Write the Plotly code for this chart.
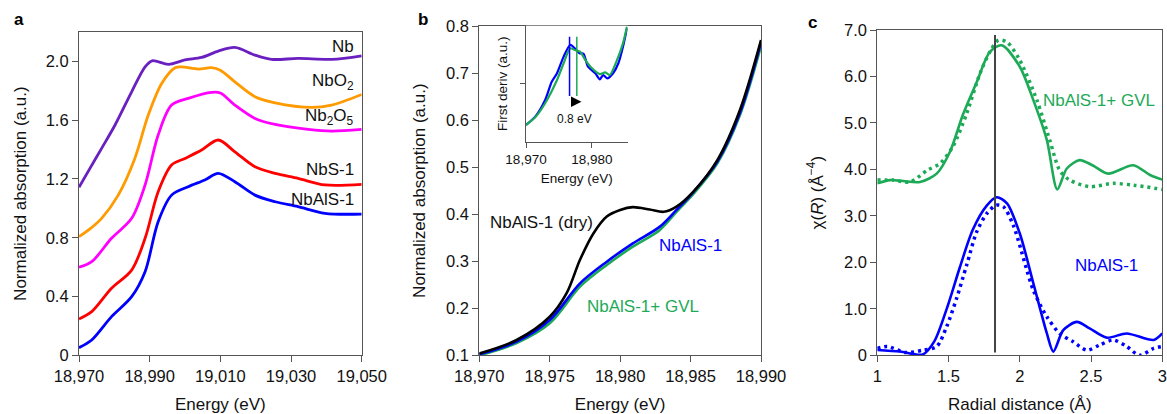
import plotly.graph_objects as go

W, H = 1167, 414
FONT = "Liberation Sans, Arial, Helvetica, sans-serif"
AX = "#555555"

# ---------------- Panel a data ----------------
nb_x = [18970, 18973.1, 18976.4, 18980.2, 18984.9, 18988.7, 18990.7, 18995.3, 19000, 19004.7, 19009.4, 19014.1, 19019.8, 19024.5, 19032, 19041.5, 19050]
nb_y = [1.143, 1.272, 1.408, 1.567, 1.793, 1.963, 2.004, 1.98, 2.01, 2.027, 2.07, 2.095, 2.043, 2.014, 2.02, 2.014, 2.038]
nbo2_x = [18970, 18973.1, 18976.4, 18981.1, 18985.8, 18989.6, 18993.4, 18997.2, 18999, 19003.8, 19007.5, 19010, 19014.1, 19019.8, 19025.5, 19035.8, 19041.5, 19050]
nbo2_y = [0.807, 0.86, 0.932, 1.09, 1.34, 1.635, 1.85, 1.957, 1.963, 1.948, 1.957, 1.94, 1.861, 1.76, 1.718, 1.687, 1.703, 1.775]
nb2o5_x = [18970, 18973.6, 18979.2, 18984.9, 18988.7, 18992.4, 18996.2, 19000.9, 19007.5, 19010, 19014.1, 19019.8, 19025.5, 19034.9, 19041.5, 19050]
nb2o5_y = [0.599, 0.637, 0.796, 0.932, 1.159, 1.499, 1.703, 1.748, 1.789, 1.785, 1.703, 1.612, 1.571, 1.537, 1.526, 1.537]
nbs_x = [18970, 18973.6, 18979.2, 18984.9, 18988.7, 18992.4, 18996.2, 19000, 19004.7, 19009.4, 19014.1, 19019.8, 19025.5, 19032, 19039.6, 19050]
nbs_y = [0.247, 0.297, 0.456, 0.58, 0.796, 1.113, 1.295, 1.34, 1.397, 1.465, 1.385, 1.283, 1.238, 1.204, 1.159, 1.163]
nbals_x = [18970, 18973.6, 18979.2, 18984.9, 18988.7, 18992.4, 18996.2, 19000.9, 19005.6, 19009.4, 19014.1, 19019.8, 19025.5, 19032, 19039.6, 19050]
nbals_y = [0.052, 0.104, 0.263, 0.399, 0.569, 0.909, 1.09, 1.147, 1.193, 1.238, 1.181, 1.09, 1.045, 1.011, 0.966, 0.961]
a_names = ["Nb", "NbO<sub>2</sub>", "Nb<sub>2</sub>O<sub>5</sub>", "NbS-1", "NbAlS-1"]
a_colors = ["#6a1fc0", "#ff9a00", "#ff00ff", "#ff0000", "#0000ff"]
a_label_y = [2.10, 1.86, 1.623, 1.265, 1.061]
a_ticks = [0, 0.4, 0.8, 1.2, 1.6, 2.0]
a_ticktext = ["0", "0.4", "0.8", "1.2", "1.6", "2.0"]
a_xticks = [18970, 18990, 19010, 19030, 19050]

# ---------------- Panel b data ----------------
dry_x = [18970, 18972.65, 18975.0, 18976.2, 18977.15, 18978.1, 18979.05, 18980.0, 18980.9, 18982.1, 18983.1, 18984.0, 18985.2, 18986.9, 18988.5, 18990]
dry_y = [0.104, 0.1325, 0.182, 0.232, 0.303, 0.359, 0.395, 0.409, 0.415, 0.410, 0.405, 0.416, 0.448, 0.515, 0.621, 0.770]
wet_x = [18970, 18972.65, 18975.0, 18977.15, 18979.05, 18980.9, 18982.8, 18984.0, 18985.2, 18986.9, 18988.5, 18990]
wet_y = [0.102, 0.129, 0.175, 0.253, 0.299, 0.338, 0.373, 0.409, 0.447, 0.512, 0.615, 0.765]
gvl_y = [0.100, 0.126, 0.168, 0.246, 0.292, 0.331, 0.366, 0.405, 0.443, 0.508, 0.610, 0.757]
b_xticks = [18970, 18975, 18980, 18985, 18990]
b_yticks = [0.1, 0.2, 0.3, 0.4, 0.5, 0.6, 0.7, 0.8]

# inset (first derivative)
ins_blue_x = [18970, 18971.4, 18972.9, 18973.9, 18974.7, 18975.7, 18976.7, 18977.4, 18978.1, 18978.7, 18979.4, 18980.5, 18981.2, 18981.7, 18982.3, 18983.2, 18984.0, 18984.7, 18985.3]
ins_blue_y = [0.144, 0.216, 0.36, 0.517, 0.59, 0.733, 0.834, 0.805, 0.762, 0.76, 0.647, 0.59, 0.538, 0.575, 0.546, 0.59, 0.676, 0.819, 0.977]
ins_green_x = [18970, 18971.4, 18972.9, 18974.7, 18975.7, 18976.7, 18977.4, 18978.2, 18979.0, 18980.0, 18981.2, 18982.0, 18982.7, 18983.7, 18984.7, 18985.3]
ins_green_y = [0.144, 0.21, 0.331, 0.532, 0.676, 0.805, 0.79, 0.776, 0.704, 0.633, 0.583, 0.598, 0.575, 0.69, 0.848, 0.99]
edge_blue = 18976.6
edge_green = 18977.7
edge_span = [0.394, 0.905]
shift_arrow = [18976.6, 18978.4]
shift_y = 0.345

# ---------------- Panel c data ----------------
gvl_solid_x = [1.0, 1.089, 1.18, 1.30, 1.417, 1.51, 1.60, 1.698, 1.79, 1.873, 2.0, 2.095, 2.19, 2.263, 2.33, 2.42, 2.51, 2.62, 2.796, 2.914, 3.0]
gvl_solid_y = [3.70, 3.77, 3.75, 3.73, 3.91, 4.38, 5.17, 5.88, 6.53, 6.67, 6.21, 5.49, 4.63, 3.57, 4.02, 4.20, 4.09, 3.91, 4.09, 3.88, 3.78]
gvl_dot_x = [1.0, 1.11, 1.23, 1.35, 1.44, 1.53, 1.627, 1.72, 1.79, 1.85, 1.91, 2.0, 2.12, 2.21, 2.28, 2.35, 2.49, 2.656, 2.80, 3.0]
gvl_dot_y = [3.77, 3.77, 3.73, 3.98, 4.13, 4.49, 5.20, 6.06, 6.53, 6.78, 6.74, 6.35, 5.49, 4.63, 3.98, 3.77, 3.63, 3.70, 3.66, 3.57]
als_solid_x = [1.0, 1.16, 1.32, 1.40, 1.487, 1.58, 1.67, 1.768, 1.838, 1.91, 2.0, 2.095, 2.19, 2.235, 2.305, 2.40, 2.49, 2.61, 2.75, 2.94, 3.0]
als_solid_y = [0.114, 0.08, 0.02, 0.30, 1.0, 1.9, 2.7, 3.22, 3.40, 3.27, 2.62, 1.55, 0.47, 0.08, 0.54, 0.72, 0.58, 0.38, 0.47, 0.33, 0.47]
als_dot_x = [1.0, 1.07, 1.2, 1.32, 1.417, 1.487, 1.557, 1.627, 1.698, 1.768, 1.833, 1.884, 1.954, 2.095, 2.19, 2.28, 2.375, 2.47, 2.56, 2.656, 2.75, 2.84, 2.94, 3.0]
als_dot_y = [0.15, 0.19, 0.06, 0.11, 0.19, 0.62, 1.23, 1.94, 2.66, 3.05, 3.23, 3.20, 2.80, 1.40, 0.83, 0.47, 0.29, 0.11, 0.22, 0.33, 0.19, 0.0, 0.15, 0.19]
r_marker = 1.826
r_marker_span = [0.06, 6.89]
c_yticks = [0, 1, 2, 3, 4, 5, 6, 7]
c_ticktext = ["0", "1.0", "2.0", "3.0", "4.0", "5.0", "6.0", "7.0"]
c_xticks = [1, 1.5, 2, 2.5, 3]

GREEN = "#1daa57"
BLUE = "#0000ff"

fig = go.Figure()

def line(x, y, color, xa, ya, width=2.8, dash="solid", smooth=0.9):
    fig.add_trace(go.Scatter(x=x, y=y, mode="lines", xaxis=xa, yaxis=ya,
                             line=dict(color=color, width=width, shape="spline", smoothing=smooth, dash=dash),
                             showlegend=False, hoverinfo="skip"))

# panel a
for xs, ys, c in zip([nb_x, nbo2_x, nb2o5_x, nbs_x, nbals_x], [nb_y, nbo2_y, nb2o5_y, nbs_y, nbals_y], a_colors):
    line(xs, ys, c, "x", "y")

# panel b
line(wet_x, gvl_y, GREEN, "x2", "y2", width=2.6)
line(wet_x, wet_y, BLUE, "x2", "y2", width=2.6)
line(dry_x, dry_y, "#000000", "x2", "y2", width=2.6)

# inset
line(ins_blue_x, ins_blue_y, BLUE, "x4", "y4", width=2.2, smooth=0.7)
line(ins_green_x, ins_green_y, GREEN, "x4", "y4", width=2.2, smooth=0.7)
fig.add_trace(go.Scatter(x=[edge_blue, edge_blue], y=edge_span, mode="lines", xaxis="x4", yaxis="y4",
                         line=dict(color=BLUE, width=1.5), showlegend=False, hoverinfo="skip"))
fig.add_trace(go.Scatter(x=[edge_green, edge_green], y=edge_span, mode="lines", xaxis="x4", yaxis="y4",
                         line=dict(color=GREEN, width=1.5), showlegend=False, hoverinfo="skip"))

# panel c
line(gvl_dot_x, gvl_dot_y, GREEN, "x3", "y3", width=3.5, dash="3px,4px", smooth=0.8)
line(gvl_solid_x, gvl_solid_y, GREEN, "x3", "y3", width=2.6, smooth=0.8)
line(als_dot_x, als_dot_y, BLUE, "x3", "y3", width=3.5, dash="3px,4px", smooth=0.8)
line(als_solid_x, als_solid_y, BLUE, "x3", "y3", width=2.6, smooth=0.8)
fig.add_trace(go.Scatter(x=[r_marker, r_marker], y=r_marker_span, mode="lines", xaxis="x3", yaxis="y3",
                         line=dict(color="#444444", width=2), showlegend=False, hoverinfo="skip"))

def xd(p0, p1):
    return [p0 / W, p1 / W]

def yd(top, bottom):
    return [1 - bottom / H, 1 - top / H]

axis_common = dict(showline=True, linecolor=AX, linewidth=1.2, ticks="outside", ticklen=6, tickwidth=1.2,
                   tickcolor=AX, showgrid=False, zeroline=False, mirror=True, automargin=False,
                   tickfont=dict(size=16.5, color="#111"), fixedrange=True)
title_font = dict(size=17, color="#111")

fig.update_layout(
    width=W, height=H, margin=dict(l=0, r=0, t=0, b=0, autoexpand=False),
    paper_bgcolor="white", plot_bgcolor="white",
    font=dict(family=FONT, color="#111"),
    xaxis=dict(domain=xd(79, 361.7), anchor="y", range=[18970, 19050], tickvals=a_xticks, tickformat=",",
               title=dict(text="Energy (eV)", font=title_font, standoff=13), **axis_common),
    yaxis=dict(domain=yd(32, 355.3), anchor="x", range=[0, 2.2], tickvals=a_ticks, ticktext=a_ticktext,
               title=dict(text="Normalized absorption (a.u.)", font=title_font, standoff=14), **axis_common),
    xaxis2=dict(domain=xd(479.3, 761), anchor="y2", range=[18970, 18990], tickvals=b_xticks, tickformat=",",
                title=dict(text="Energy (eV)", font=title_font, standoff=13), **axis_common),
    yaxis2=dict(domain=yd(26, 355.3), anchor="x2", range=[0.1, 0.8], tickvals=b_yticks, tickformat=".1f",
                title=dict(text="Normalized absorption (a.u.)", font=title_font, standoff=16), **axis_common),
    xaxis3=dict(domain=xd(877.3, 1162.3), anchor="y3", range=[1, 3], tickvals=c_xticks,
                title=dict(text="Radial distance (Å)", font=title_font, standoff=13), **axis_common),
    yaxis3=dict(domain=yd(30, 355.3), anchor="x3", range=[0, 7], tickvals=c_yticks, ticktext=c_ticktext,
                title=dict(text="χ(<i>R</i>) (Å<sup>−4</sup>)", font=title_font, standoff=16), **axis_common),
    xaxis4=dict(domain=xd(526, 627.6), anchor="y4", range=[18970, 18985.4], tickvals=[18970, 18980], tickformat=",",
                showline=True, linecolor=AX, linewidth=1.2, ticks="outside", ticklen=5, tickcolor=AX, automargin=False,
                showgrid=False, zeroline=False, fixedrange=True, tickfont=dict(size=13.5, color="#111"),
                title=dict(text="Energy (eV)", font=dict(size=13.5, color="#111"), standoff=7)),
    yaxis4=dict(domain=yd(25.7, 141.7), anchor="x4", range=[0, 1], tickvals=[0.5], showticklabels=False,
                showline=True, linecolor=AX, linewidth=1.2, ticks="outside", ticklen=5, tickcolor=AX, automargin=False,
                showgrid=False, zeroline=False, fixedrange=True,
                title=dict(text="First deriv (a.u.)", font=dict(size=13.5, color="#111"), standoff=9)),
)

ann = []
for name, yl in zip(a_names, a_label_y):
    ann.append(dict(x=19048.5, y=yl, xref="x", yref="y", text=name, showarrow=False, xanchor="right",
                    yanchor="middle", font=dict(size=17, color="#111")))
ann += [
    dict(x=18970.6, y=0.383, xref="x2", yref="y2", text="NbAlS-1 (dry)", showarrow=False, xanchor="left",
         font=dict(size=17, color="#111")),
    dict(x=18982.6, y=0.334, xref="x2", yref="y2", text="NbAlS-1", showarrow=False, xanchor="left",
         font=dict(size=17, color=BLUE)),
    dict(x=18977.5, y=0.203, xref="x2", yref="y2", text="NbAlS-1+ GVL", showarrow=False, xanchor="left",
         font=dict(size=17, color=GREEN)),
    dict(x=shift_arrow[1], y=shift_y, ax=shift_arrow[0], ay=shift_y, xref="x4", yref="y4", axref="x4", ayref="y4",
         text="", showarrow=True, arrowhead=2, arrowsize=1.3, arrowwidth=1.6, arrowcolor="#000"),
    dict(x=18977.3, y=0.2, xref="x4", yref="y4", text="0.8 eV", showarrow=False, font=dict(size=12, color="#111")),
    dict(x=2.147, y=5.49, xref="x3", yref="y3", text="NbAlS-1+ GVL", showarrow=False, xanchor="left",
         font=dict(size=17, color=GREEN)),
    dict(x=2.371, y=1.94, xref="x3", yref="y3", text="NbAlS-1", showarrow=False, xanchor="left",
         font=dict(size=17, color=BLUE)),
]
for t, px, py in [("a", 12, 20), ("b", 416, 20), ("c", 806, 22)]:
    ann.append(dict(x=px / W, y=1 - py / H, xref="paper", yref="paper", text=f"<b>{t}</b>", showarrow=False,
                    xanchor="left", yanchor="middle", font=dict(size=17, color="#000")))
fig.update_layout(annotations=ann)

fig.write_html("out.html", config={"displayModeBar": False},
               post_script="document.body.style.margin='0px';document.body.style.overflow='hidden';")
